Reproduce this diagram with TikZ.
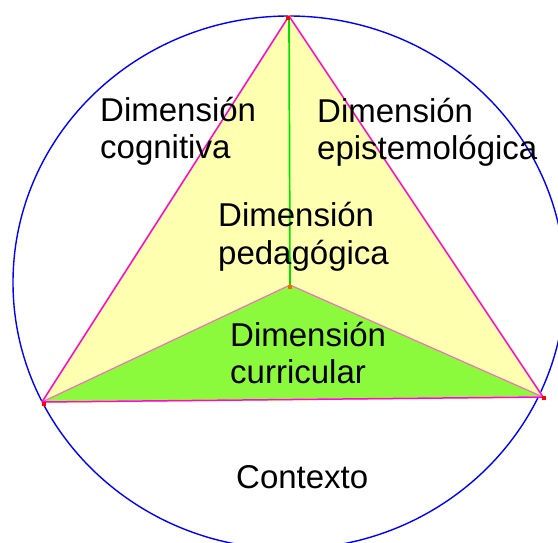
\documentclass[tikz,border=0pt]{standalone}
\usepackage{fontspec}
\setmainfont{Liberation Sans}
\definecolor{paleyellow}{RGB}{255,255,176}
\definecolor{lime}{RGB}{140,250,60}
\definecolor{edgepink}{RGB}{255,100,200}
\definecolor{linegreen}{RGB}{0,225,0}
\definecolor{mag}{RGB}{255,0,255}
\definecolor{ctxblue}{RGB}{0,0,255}
\definecolor{yel}{RGB}{255,255,0}
\tikzset{
  lbl/.style={anchor=base west, inner sep=0pt, font=\fontsize{33}{37.5}\selectfont},
  outeredge/.style={draw=mag, line width=1.5pt},
  marker/.style={fill=red, draw=none, minimum size=4pt, inner sep=0pt, shape=rectangle}
}
\begin{document}
\begin{tikzpicture}[x=1pt,y=-1pt]
\useasboundingbox (0,0) rectangle (558,543);
\fill[white] (0,0) rectangle (558,543);
\clip (0,0) rectangle (558,543);
\coordinate (T) at (289,16);
\coordinate (L) at (42,402);
\coordinate (R) at (543,397);
\coordinate (C) at (290,285);
% context ellipse
\draw[ctxblue, line width=1.4pt] (289,282.5) ellipse [x radius=276, y radius=266.5];
% yellow triangle
\fill[paleyellow] (T) -- (L) -- (R) -- cycle;
% green triangle
\filldraw[fill=lime, draw=edgepink, line width=1.1pt, line join=round] (L) -- (C) -- (R) -- cycle;
% yellow shadow of the outer edges
\draw[yel, line width=1.8pt, line join=round, shift={(1.2,2)}] (T) -- (L) -- (R) -- cycle;
% outer edges
\draw[outeredge] (T) -- (L);
\draw[outeredge] (T) -- (R);
\draw[outeredge] (L) -- (R);
% vertical green line
\draw[linegreen, line width=1.7pt] (T) -- (C);
% vertex markers
\node[marker] (mT) at ([xshift=-1pt,yshift=-2pt]T) {};
\node[marker] (mL) at ([xshift=1.5pt,yshift=-1.5pt]L) {};
\node[marker] (mR) at ([xshift=1pt,yshift=-0.5pt]R) {};
\node[marker, fill=orange!80!red] (mC) at ([yshift=-2pt]C) {};
% labels
\node[lbl] (cog1) at (100,121.7) {Dimensión};
\node[lbl] (cog2) at (100,159) {cognitiva};
\node[lbl] (epi1) at (317,122.7) {Dimensión};
\node[lbl] (epi2) at (317,160) {epistemológica};
\node[lbl] (ped1) at (218,226.7) {Dimensión};
\node[lbl] (ped2) at (218,264) {pedagógica};
\node[lbl] (cur1) at (230,346.7) {Dimensión};
\node[lbl] (cur2) at (230,383.3) {curricular};
\node[lbl] (ctx) at (236,488.5) {Contexto};
\end{tikzpicture}
\end{document}
